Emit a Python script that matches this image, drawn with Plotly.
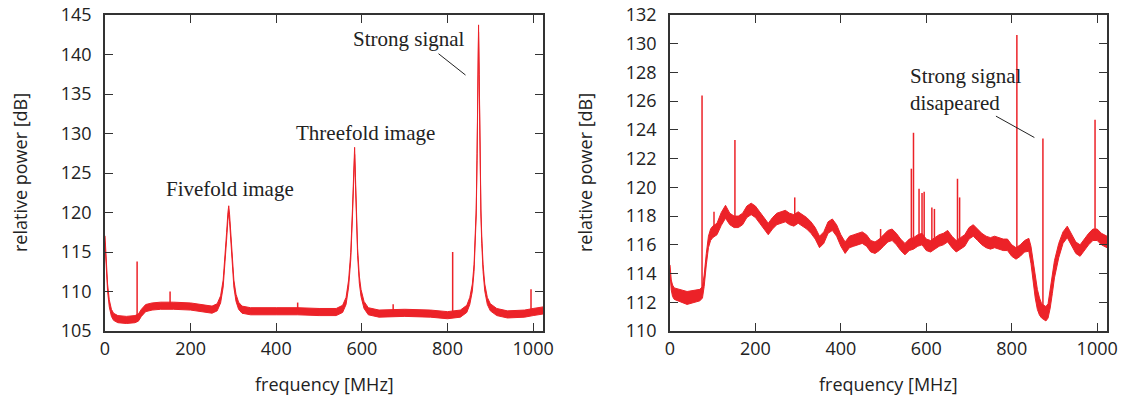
import plotly.graph_objects as go
import numpy as np

# ---------------- Left panel: spectrum with strong signal ----------------
left_freq = [0, 3, 6, 10, 15, 20, 30, 50, 70, 78, 85, 95, 110, 130, 160, 200, 230, 250,
             262, 270, 276, 280, 284, 287, 289, 291, 294, 297, 301, 306, 312, 320, 340,
             400, 450, 500, 540, 555, 563, 569, 574, 578, 581, 583, 585, 587, 590, 594,
             598, 605, 615, 640, 700, 760, 800, 830, 845, 852, 858, 862, 865, 867, 869,
             871, 872.5, 874, 876, 878, 880, 883, 887, 893, 900, 915, 940, 980, 1000, 1023]
left_power = [116.6, 113.0, 110.5, 108.5, 107.3, 106.8, 106.5, 106.4, 106.5, 106.7, 107.3,
              107.9, 108.1, 108.2, 108.2, 108.1, 107.9, 107.7,
              108.0, 109.0, 111.0, 113.5, 117.0, 119.5, 120.4, 119.3, 116.5, 113.5, 111.0,
              109.2, 108.2, 107.7, 107.5,
              107.5, 107.5, 107.4, 107.4, 107.8, 108.8, 111.0, 114.5, 120.0, 126.0, 127.8,
              124.0, 119.0, 115.0, 111.5,
              109.8, 108.3, 107.5, 107.2, 107.3, 107.2, 107.0, 107.2, 107.8, 108.8, 110.5,
              113.0, 116.5, 120.0, 127.0,
              137.0, 143.3, 137.0, 127.0, 120.0, 116.5, 113.0, 110.5, 108.8, 108.0, 107.4,
              107.1, 107.2, 107.4, 107.6]
left_noise = 0.45  # half-width of the noise band [dB]
left_spike_freq = [75, 152, 450, 673, 812, 995]
left_spike_top = [113.8, 110.0, 108.6, 108.4, 115.0, 110.3]

# ---------------- Right panel: strong signal disappeared ----------------
right_freq = [0, 3, 6, 10, 40, 70, 76, 80, 85, 90, 95, 100, 110, 120, 130, 140, 150, 160,
              170, 180, 190, 200, 210, 220, 230, 240, 250, 260, 270, 280, 290, 300, 310,
              320, 330, 340, 350, 360, 370, 380, 390, 400, 410, 420, 430, 440, 450, 460,
              470, 480, 490, 500, 510, 520, 530, 540, 550, 560, 570, 580, 590, 600, 610,
              620, 630, 640, 650, 660, 670, 680, 690, 700, 710, 720, 730, 740, 750, 760,
              770, 780, 790, 800, 810, 820, 830, 840, 845, 850, 855, 860, 865, 870, 875,
              880, 885, 890, 895, 900, 910, 920, 930, 940, 950, 960, 970, 980, 990, 1000,
              1010, 1023]
right_power = [114.3, 113.2, 112.8, 112.6, 112.3, 112.5, 112.7, 113.5, 115.0, 116.2, 116.7,
               116.9, 117.1, 117.8, 118.3, 117.8, 117.6, 117.6,
               117.8, 118.3, 118.5, 118.3, 117.9, 117.5, 117.1, 117.5, 117.8, 117.9, 118.0,
               117.8, 117.7, 117.9, 117.7,
               117.5, 117.2, 116.8, 116.2, 116.5, 117.2, 117.4, 117.0, 116.3, 115.8, 116.2,
               116.3, 116.4, 116.5, 116.3,
               115.9, 115.8, 116.0, 116.3, 116.6, 116.7, 116.4, 116.0, 115.7, 116.0, 116.1,
               116.3, 116.4, 116.0, 115.9,
               116.1, 116.3, 116.4, 116.6, 116.2, 115.9, 116.1, 116.3, 116.8, 117.0, 116.7,
               116.4, 116.2, 116.1, 116.2,
               116.1, 116.0, 116.0, 115.6, 115.4, 115.6, 115.9, 116.0, 115.3, 114.1, 113.0,
               112.2, 111.7, 111.4, 111.3,
               111.2, 111.4, 112.2, 113.2, 114.3, 115.6, 116.5, 116.9, 116.3, 115.8, 115.6,
               116.0, 116.4, 116.7, 116.7,
               116.4, 116.2]
right_noise = [0.3, 0.35, 0.4, 0.4, 0.45, 0.4, 0.4, 0.4, 0.4, 0.4, 0.4,
               0.4, 0.4, 0.45, 0.45, 0.4, 0.4, 0.4,
               0.4, 0.4, 0.4, 0.4, 0.4, 0.4, 0.4, 0.4, 0.4, 0.4, 0.4,
               0.4, 0.4, 0.4, 0.4,
               0.4, 0.4, 0.4, 0.4, 0.4, 0.4, 0.4, 0.4, 0.4, 0.4, 0.4,
               0.4, 0.4, 0.4, 0.4,
               0.4, 0.4, 0.4, 0.4, 0.4, 0.4, 0.4, 0.4, 0.4, 0.4, 0.4,
               0.4, 0.4, 0.4, 0.4,
               0.4, 0.4, 0.4, 0.4, 0.4, 0.4, 0.4, 0.4, 0.4, 0.4, 0.4,
               0.4, 0.4, 0.4, 0.4,
               0.4, 0.4, 0.4, 0.4, 0.4, 0.4, 0.4, 0.45, 0.6, 0.7, 0.7,
               0.7, 0.6, 0.5, 0.5,
               0.5, 0.5, 0.6, 0.6, 0.6, 0.5, 0.4, 0.4, 0.4, 0.4, 0.4,
               0.4, 0.4, 0.4, 0.4,
               0.4, 0.4]
right_spike_freq = [75, 103, 152, 292, 493, 565, 570, 583, 590, 595, 613, 619, 673, 678,
                    812, 873, 995]
right_spike_top = [126.4, 118.3, 123.3, 119.3, 117.1, 121.3, 123.8, 119.9, 119.6, 119.7,
                   118.6, 118.5, 120.6, 119.3, 130.6, 123.4, 124.7]

x_ticks = [0, 200, 400, 600, 800, 1000]
left_y_ticks = [105, 110, 115, 120, 125, 130, 135, 140, 145]
right_y_ticks = [110, 112, 114, 116, 118, 120, 122, 124, 126, 128, 130, 132]

RED = "#ec2228"
AX = "#333333"

W, H = 1124, 395


def px_x(px):
    return px / W


def px_y(py):
    return 1 - py / H


def band_traces(freq, power, noise, xa, ya):
    f = np.array(freq, float)
    p = np.array(power, float)
    n = np.broadcast_to(np.array(noise, float), p.shape)
    hi = go.Scatter(x=f, y=p + n, mode="lines", line=dict(color=RED, width=1),
                    xaxis=xa, yaxis=ya, showlegend=False, hoverinfo="skip")
    lo = go.Scatter(x=f, y=p - n, mode="lines", line=dict(color=RED, width=1),
                    fill="tonexty", fillcolor=RED,
                    xaxis=xa, yaxis=ya, showlegend=False, hoverinfo="skip")
    return [hi, lo]


def spike_trace(freq, power, sf, st, xa, ya):
    base = np.interp(sf, freq, power)
    xs, ys = [], []
    for f0, b, t in zip(sf, base, st):
        xs += [f0, f0, None]
        ys += [b, t, None]
    return go.Scatter(x=xs, y=ys, mode="lines", line=dict(color=RED, width=1.5),
                      xaxis=xa, yaxis=ya, showlegend=False, hoverinfo="skip")


fig = go.Figure()
for t in band_traces(left_freq, left_power, left_noise, "x", "y"):
    fig.add_trace(t)
fig.add_trace(spike_trace(left_freq, left_power, left_spike_freq, left_spike_top, "x", "y"))
for t in band_traces(right_freq, right_power, right_noise, "x2", "y2"):
    fig.add_trace(t)
fig.add_trace(spike_trace(right_freq, right_power, right_spike_freq, right_spike_top, "x2", "y2"))

tick_font = dict(family="Open Sans, sans-serif", size=18, color="#222")
common_x = dict(range=[0, 1023], tickvals=x_ticks, ticks="inside", ticklen=8, tickwidth=1,
                tickcolor=AX, showline=True, linecolor=AX, linewidth=1.5, mirror="ticks",
                showgrid=False, zeroline=False, tickfont=tick_font, ticklabelstandoff=1,
                automargin=False, ticklabeloverflow="allow")
common_y = dict(ticks="inside", ticklen=8, tickwidth=1, tickcolor=AX, showline=True,
                linecolor=AX, linewidth=1.5, mirror="ticks", showgrid=False, zeroline=False,
                tickfont=tick_font, ticklabelstandoff=8, automargin=False,
                ticklabeloverflow="allow")

y_dom = [px_y(331), px_y(15)]
fig.update_layout(
    width=W, height=H,
    margin=dict(l=0, r=0, t=0, b=0, autoexpand=False),
    paper_bgcolor="white", plot_bgcolor="white",
    hovermode=False,
    xaxis=dict(domain=[px_x(105), px_x(543)], anchor="y", **common_x),
    yaxis=dict(domain=y_dom, anchor="x", range=[105, 145], tickvals=left_y_ticks,
               **common_y),
    xaxis2=dict(domain=[px_x(670), px_x(1107)], anchor="y2", **common_x),
    yaxis2=dict(domain=y_dom, anchor="x2", range=[110, 132], tickvals=right_y_ticks,
                **common_y),
)

title_font = dict(family="Open Sans, sans-serif", size=18, color="#222")
serif = dict(family="Liberation Serif, Times New Roman, serif", size=21, color="#222")
ann = [
    dict(text="frequency [MHz]", x=(px_x(105) + px_x(543)) / 2, y=px_y(384), xref="paper",
         yref="paper", xanchor="center", yanchor="middle", showarrow=False, font=title_font),
    dict(text="frequency [MHz]", x=(px_x(670) + px_x(1107)) / 2, y=px_y(384), xref="paper",
         yref="paper", xanchor="center", yanchor="middle", showarrow=False, font=title_font),
    dict(text="relative power [dB]", x=px_x(20), y=px_y(173), xref="paper", yref="paper",
         xanchor="center", yanchor="middle", textangle=-90, showarrow=False, font=title_font),
    dict(text="relative power [dB]", x=px_x(585), y=px_y(173), xref="paper", yref="paper",
         xanchor="center", yanchor="middle", textangle=-90, showarrow=False, font=title_font),
    dict(text="Strong signal", x=710, y=141.9, xref="x", yref="y", showarrow=False, font=serif),
    dict(text="Threefold image", x=608, y=130.1, xref="x", yref="y", showarrow=False, font=serif),
    dict(text="Fivefold image", x=293, y=123.0, xref="x", yref="y", showarrow=False, font=serif),
    dict(text="Strong signal<br>disapeared", x=558, y=126.8, xref="x2", yref="y2",
         xanchor="left", align="left", showarrow=False, font=serif),
]
fig.update_layout(annotations=ann)
fig.add_shape(type="line", x0=779, y0=140.1, x1=842, y1=137.4, xref="x", yref="y",
              line=dict(color="#222", width=1))
fig.add_shape(type="line", x0=763, y0=124.96, x1=853, y1=123.47, xref="x2", yref="y2",
              line=dict(color="#222", width=1))

# remove the default 8px page margin so the figure fills the window exactly
fig.write_html("out.html", config={"displayModeBar": False},
               post_script="document.body.style.margin='0px';")
